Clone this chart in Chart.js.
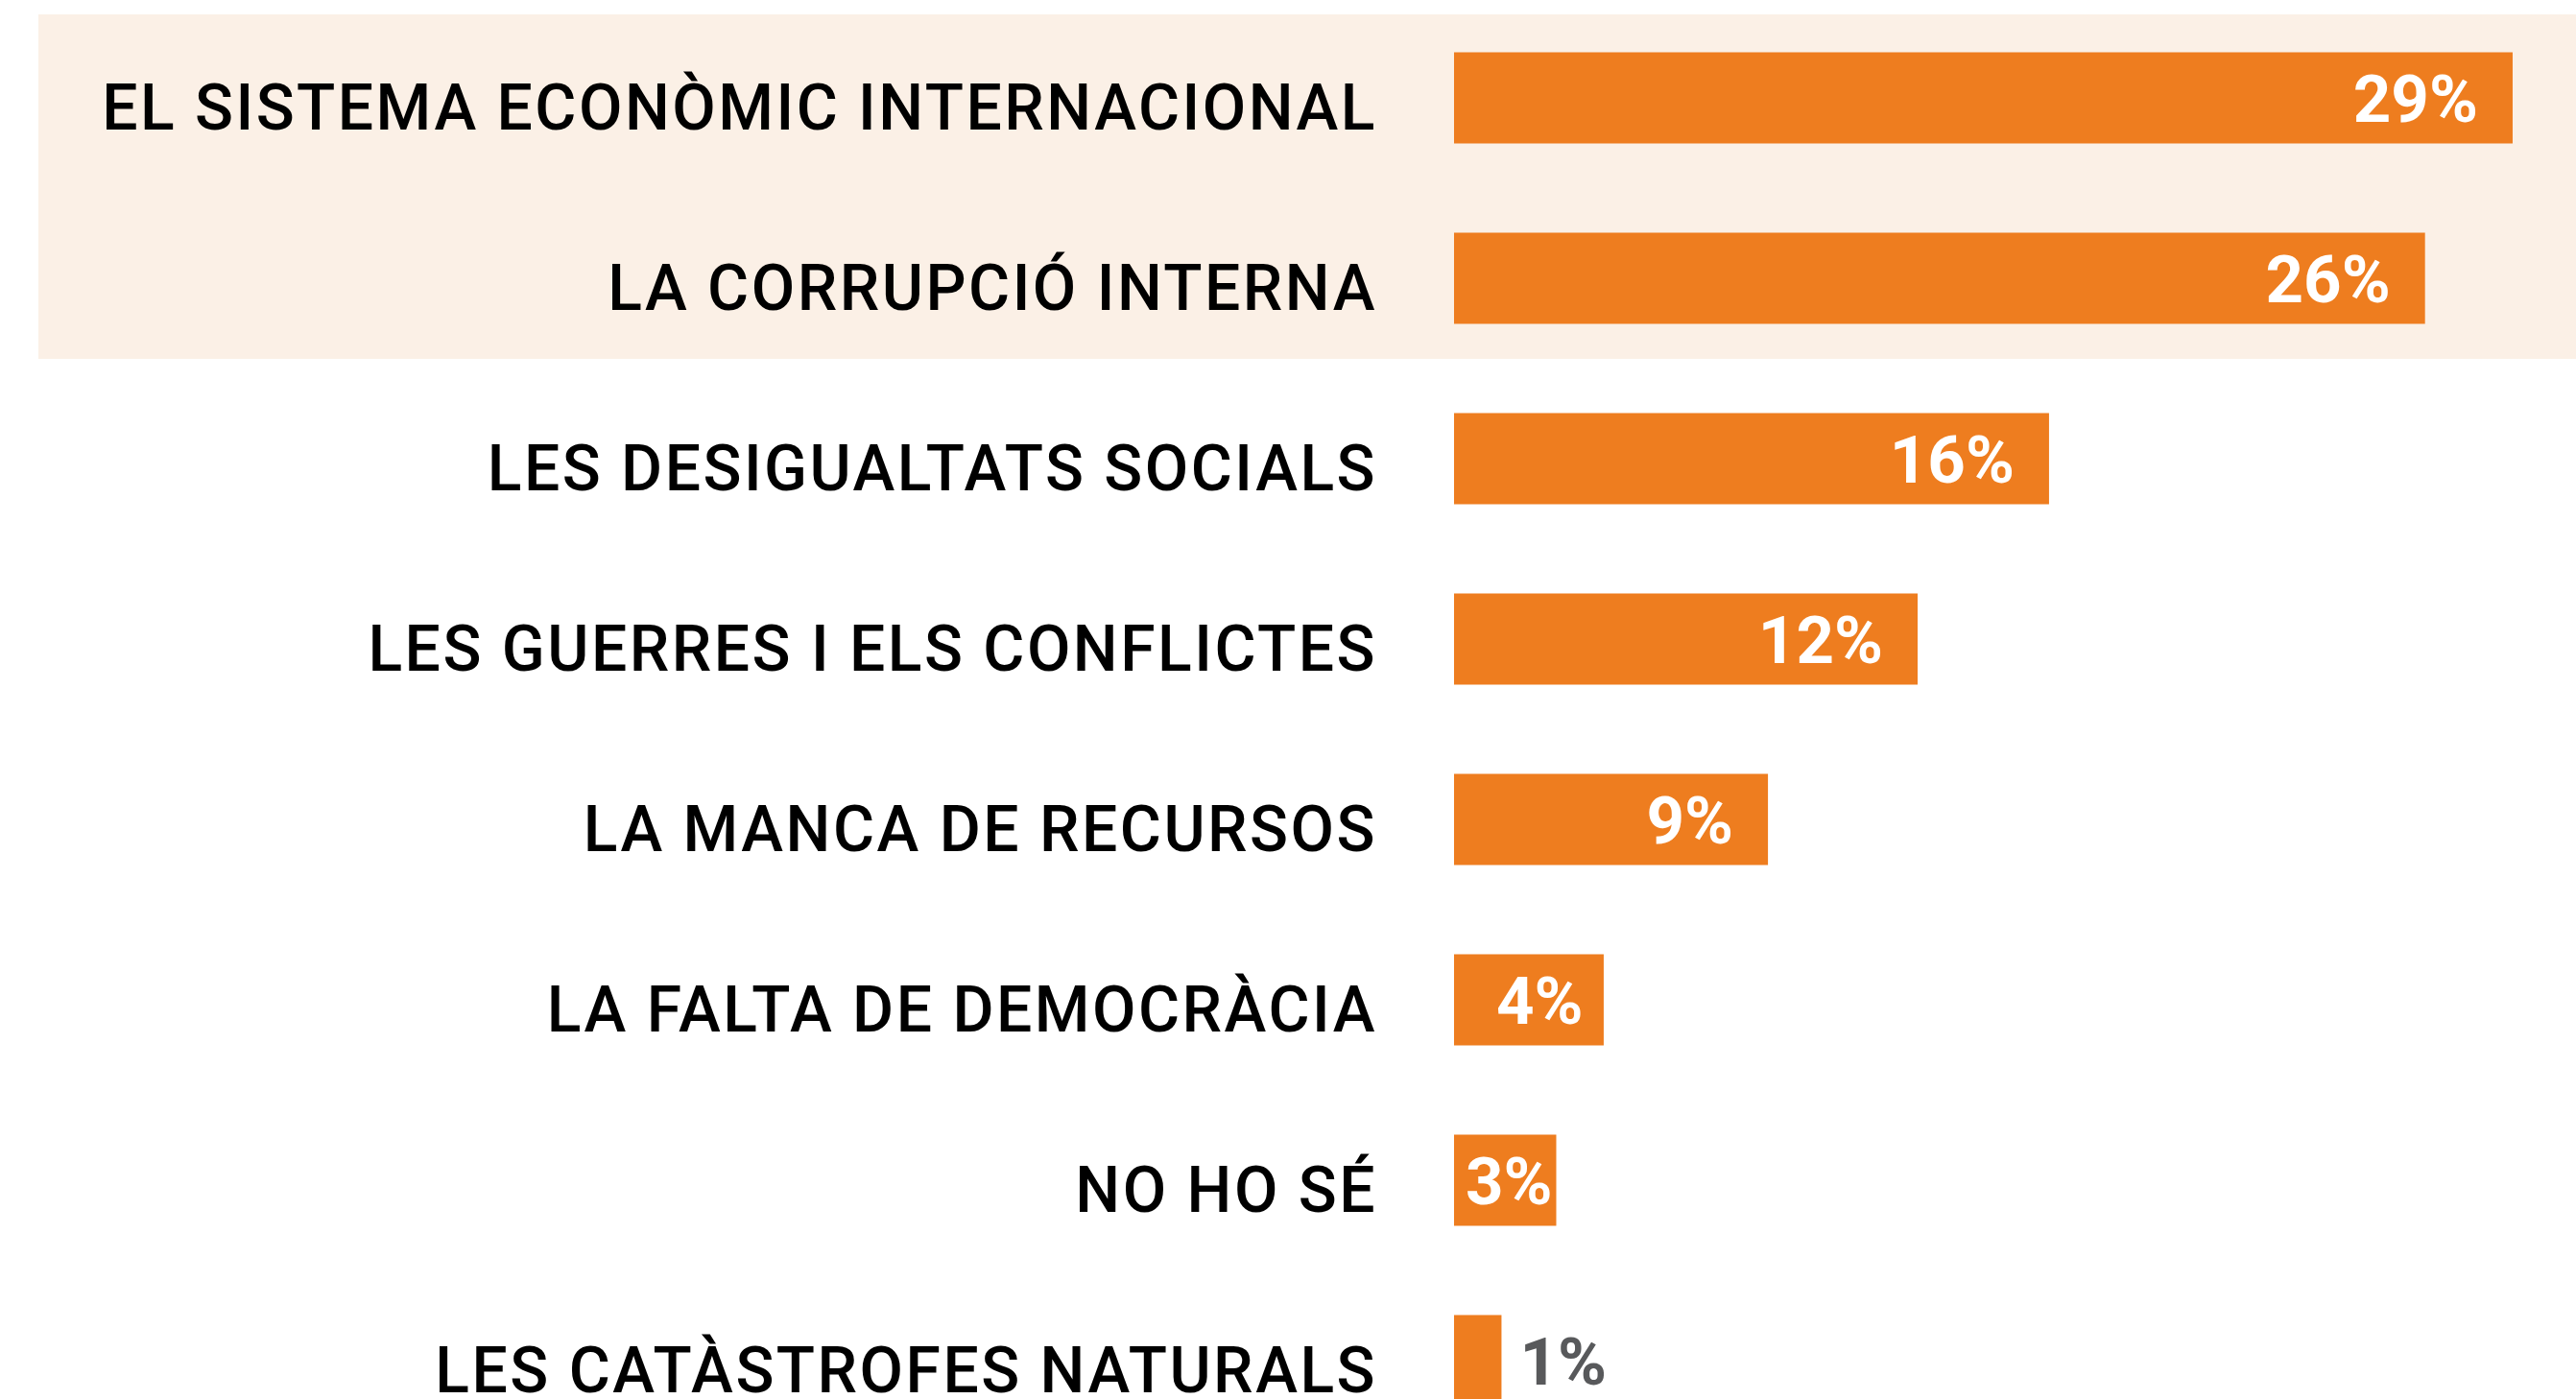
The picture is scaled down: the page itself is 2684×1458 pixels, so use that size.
<!DOCTYPE html>
<html>
<head>
<meta charset="utf-8">
<script src="https://cdn.jsdelivr.net/npm/chart.js@4"></script>
<style>
  html, body { margin: 0; padding: 0; background: #fff; overflow: hidden; }
  #wrap { width: 2684px; height: 1520px; position: relative; }
</style>
</head>
<body>
<div id="wrap"><canvas id="causes-chart"></canvas></div>
<script>
const categories = [
    "EL SISTEMA ECONÒMIC INTERNACIONAL",
    "LA CORRUPCIÓ INTERNA",
    "LES DESIGUALTATS SOCIALS",
    "LES GUERRES I ELS CONFLICTES",
    "LA MANCA DE RECURSOS",
    "LA FALTA DE DEMOCRÀCIA",
    "NO HO SÉ",
    "LES CATÀSTROFES NATURALS"
];
const values = [29, 26.6, 16.3, 12.7, 8.6, 4.1, 2.8, 1.3];
const valueLabels = ["29%", "26%", "16%", "12%", "9%", "4%", "3%", "1%"];
const highlighted = [0, 1];

const ORANGE = "#ee7d1f";
const CREAM = "#fbf0e6";

// cream band behind the first rows + letter spacing for the category labels
const bandPlugin = {
    id: "band",
    beforeDraw(chart) {
        const ctx = chart.ctx;
        const y = chart.scales.y;
        const band = y.getPixelForValue(1) - y.getPixelForValue(0);
        const top = y.getPixelForValue(highlighted[0]) - band * 0.463;
        const bottom = y.getPixelForValue(highlighted[highlighted.length - 1]) + band * 0.447;
        ctx.save();
        ctx.fillStyle = CREAM;
        ctx.fillRect(40, top, chart.width - 40, bottom - top);
        ctx.restore();
        ctx.letterSpacing = "2.5px";
    }
};

const valuePlugin = {
    id: "values",
    afterDatasetsDraw(chart) {
        const ctx = chart.ctx;
        const meta = chart.getDatasetMeta(0);
        ctx.save();
        ctx.letterSpacing = "0px";
        ctx.font = "bold 69px Roboto";
        ctx.textBaseline = "middle";
        meta.data.forEach((bar, i) => {
            const txt = valueLabels[i];
            const tw = ctx.measureText(txt).width;
            const bw = bar.x - bar.base;
            const ty = bar.y + 8;
            if (tw + 8 <= bw) {
                const pad = Math.max(4, Math.min(36, bw - tw - 44));
                ctx.fillStyle = "#ffffff";
                ctx.textAlign = "right";
                ctx.fillText(txt, bar.x - pad, ty);
            } else {
                ctx.fillStyle = "#58595b";
                ctx.textAlign = "left";
                ctx.fillText(txt, bar.x + 19, ty);
            }
        });
        ctx.restore();
    }
};

new Chart(document.getElementById("causes-chart"), {
    type: "bar",
    data: {
        labels: categories,
        datasets: [{
            data: values,
            backgroundColor: ORANGE,
            borderWidth: 0,
            barPercentage: 0.505,
            categoryPercentage: 1
        }]
    },
    options: {
        indexAxis: "y",
        responsive: true,
        maintainAspectRatio: false,
        animation: false,
        layout: { padding: { top: 8, bottom: 8, left: 0, right: 28 } },
        plugins: {
            legend: { display: false },
            tooltip: { enabled: false }
        },
        scales: {
            x: {
                display: false,
                min: 0,
                max: 30
            },
            y: {
                grid: { display: false },
                border: { display: false },
                afterFit: s => {
                    s.width = 1515;
                    s.paddingTop = 0;
                    s.paddingBottom = 0;
                },
                ticks: {
                    color: "#000000",
                    padding: 72,
                    labelOffset: 16,
                    font: { family: "Roboto", size: 66, weight: "500" }
                }
            }
        }
    },
    plugins: [bandPlugin, valuePlugin]
});
</script>
</body>
</html>
